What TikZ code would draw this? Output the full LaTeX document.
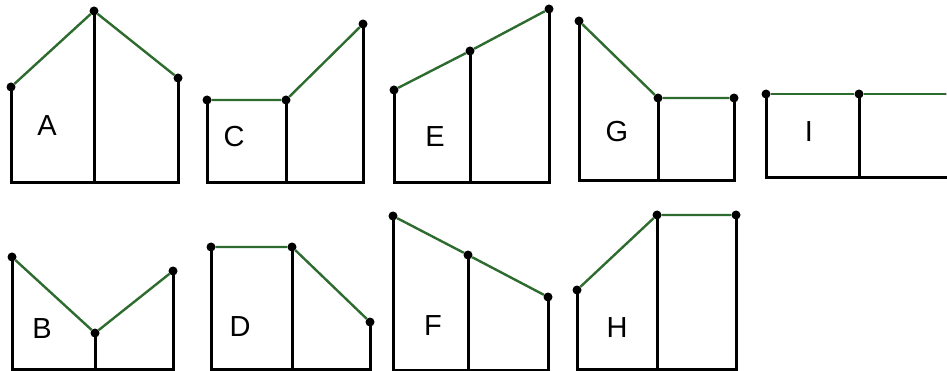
\documentclass[tikz,border=0pt]{standalone}
\usepackage{fontspec}
\setmainfont{Liberation Sans}
\usetikzlibrary{positioning}
\definecolor{Roof}{HTML}{2E6B2E}

\begin{document}
\begin{tikzpicture}[x=1pt,y=-1pt,
 wall/.style={line width=3pt},
 roof/.style={line width=2.4pt,draw=Roof},
 dot/.style={circle,fill,inner sep=0pt,minimum size=9pt},
 tag/.style={font=\fontsize{29}{34}\selectfont}]
\useasboundingbox (0,0) rectangle (947,371);
\clip (0,0) rectangle (947,371);
\foreach \n/\xl/\yl/\xm/\ym/\xr/\yr/\yb/\lx/\ly in {
 A/11/87/94/11/178/78/183/47/126,
 C/207/100/286/100/363/24/183/234/137,
 E/394/90/470/51/549/9/183/435/137,
 G/579/21/658/98/734/98/181/617/132,
 I/766/94/859/94/951/94/178/809/132,
 B/12/257/95/333/173/271/369/42/329,
 D/211/247/292/247/370/322/369/240/327,
 F/393/216/468/255/548/297/370/433/326,
 H/577/290/657/215/736/215/369/617/328}{
 \coordinate (\n bl) at (\xl,\yb);
 \coordinate (\n bm) at (\xm,\yb);
 \coordinate (\n br) at (\xr,\yb);
 \draw[wall] (\xl,\yl) -- (\n bl) -- (\n br) -- (\xr,\yr);
 \draw[wall] (\xm,\ym) -- (\n bm);
 \node[dot] (\n l) at (\xl,\yl) {};
 \node[dot] (\n m) at (\xm,\ym) {};
 \node[dot] (\n r) at (\xr,\yr) {};
 \draw[roof] (\n l) -- (\n m) -- (\n r);
 \node[tag] (\n tag) at (\lx,\ly) {\n};
}
\end{tikzpicture}
\end{document}
